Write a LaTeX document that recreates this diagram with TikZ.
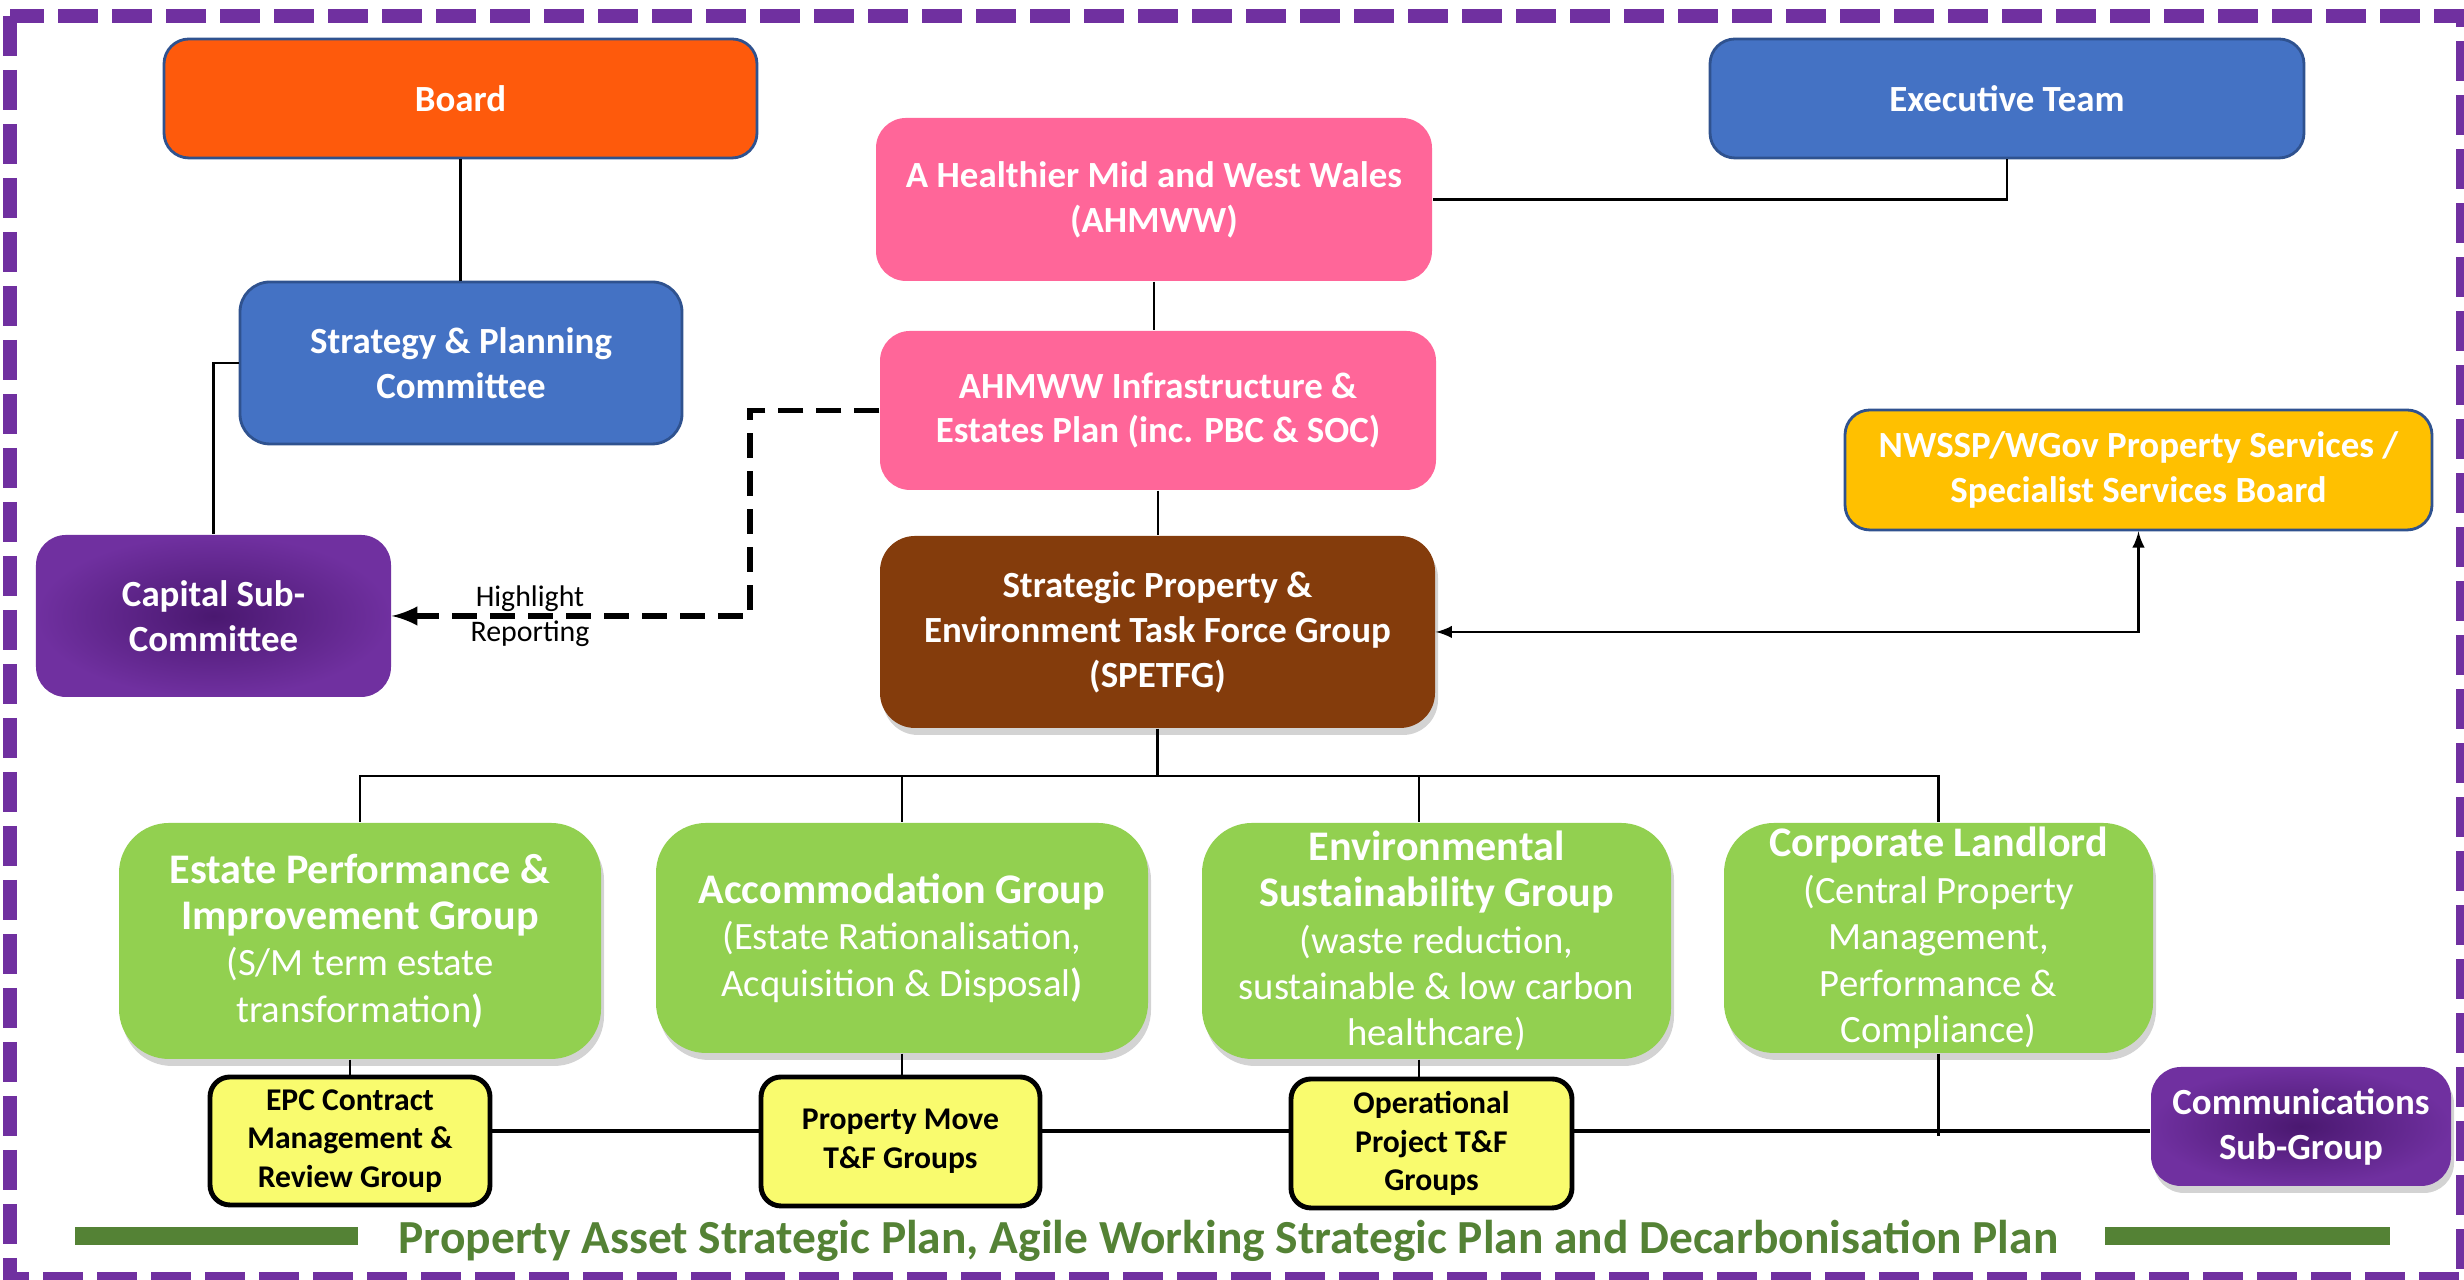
\documentclass[tikz,border=0pt]{standalone}
\usepackage{fontspec}
\setmainfont{Carlito}
\usetikzlibrary{shadows}

\definecolor{boardorange}{HTML}{FE5A0C}
\definecolor{officeblue}{HTML}{4472C4}
\definecolor{officeedge}{HTML}{2F528F}
\definecolor{ahmwwpink}{HTML}{FF6699}
\definecolor{nwsspgold}{HTML}{FFC000}
\definecolor{grouppurple}{HTML}{7030A0}
\definecolor{darkpurple}{HTML}{4A1870}
\definecolor{spetbrown}{HTML}{843C0C}
\definecolor{groupgreen}{HTML}{92D050}
\definecolor{tfyellow}{HTML}{F9FB6E}
\definecolor{plangreen}{HTML}{548235}

\newcommand{\notefont}{\fontsize{11}{13.2}\selectfont\mdseries}

\tikzset{
	box/.style={rounded corners=0.25cm, align=center, text=white, inner sep=0pt, font=\fontsize{10.5}{12.8}\selectfont\bfseries},
	edged/.style={box, draw=officeedge, line width=0.8pt},
	softshadow/.style={drop shadow={opacity=0.35, shadow xshift=0.03cm, shadow yshift=-0.07cm}},
	greenbox/.style={box, fill=groupgreen, rounded corners=0.5cm, softshadow, font=\fontsize{12}{13.2}\selectfont\bfseries},
	tfbox/.style={box, fill=tfyellow, draw=black, line width=1.4pt, rounded corners=0.2cm, text=black, font=\fontsize{9}{11}\selectfont\bfseries},
	purplebox/.style={box, rounded corners=0.3cm, inner color=darkpurple, outer color=grouppurple},
	link/.style={line width=0.6pt},
	lowlink/.style={line width=1pt},
	dashlink/.style={line width=1.5pt, dash pattern=on 0.25cm off 0.13cm},
	>=latex
}

\begin{document}
\begin{tikzpicture}
	    
	    \useasboundingbox (0,0) rectangle (24.64,12.8);
	    \draw [grouppurple, line width=0.14cm, dash pattern=on 0.4cm off 0.14cm] (0.105,12.64) rectangle (24.63,0.01);
	    
	    \node [edged, fill=boardorange, minimum width=5.93cm, minimum height=1.19cm] (board) at (4.605,11.815) {Board};
	    \node [edged, fill=officeblue, minimum width=5.94cm, minimum height=1.19cm] (exec) at (20.07,11.815) {Executive Team};
	    
	    \node [box, fill=ahmwwpink, rounded corners=0.3cm, minimum width=5.56cm, minimum height=1.63cm] (ahmww) at (11.54,10.805) {A Healthier Mid and West Wales\\(AHMWW)};
	    \node [edged, fill=officeblue, rounded corners=0.3cm, minimum width=4.42cm, minimum height=1.62cm] (strategy) at (4.61,9.17) {Strategy \& Planning\\Committee};
	    \node [box, fill=ahmwwpink, rounded corners=0.3cm, minimum width=5.56cm, minimum height=1.59cm] (infra) at (11.58,8.695) {AHMWW Infrastructure \&\\Estates Plan (inc. PBC \& SOC)};
	    \node [edged, fill=nwsspgold, minimum width=5.87cm, minimum height=1.20cm] (nwssp) at (21.385,8.10) {NWSSP/WGov Property Services /\\Specialist Services Board};
	    
	    \node [purplebox, minimum width=3.55cm, minimum height=1.62cm] (capital) at (2.135,6.64) {Capital Sub-\\Committee};
	    \node [box, fill=spetbrown, rounded corners=0.35cm, softshadow, minimum width=5.55cm, minimum height=1.92cm] (spetfg) at (11.575,6.48) {Strategic Property \&\\Environment Task Force Group\\(SPETFG)};
	    
	    \node [greenbox, minimum width=4.82cm, minimum height=2.36cm] (estate) at (3.60,3.39) {Estate Performance \&\\Improvement Group\\\notefont (S/M term estate\\\notefont transformation\textbf{)}};
	    \node [greenbox, minimum width=4.92cm, minimum height=2.30cm] (accom) at (9.02,3.42) {Accommodation Group\\\notefont (Estate Rationalisation,\\\notefont Acquisition \& Disposal\textbf{)}};
	    \node [greenbox, minimum width=4.69cm, minimum height=2.36cm] (envgrp) at (14.365,3.39) {Environmental\\Sustainability Group\\\notefont (waste reduction,\\\notefont sustainable \& low carbon\\\notefont healthcare)};
	    \node [greenbox, minimum width=4.29cm, minimum height=2.30cm] (landlord) at (19.385,3.42) {Corporate Landlord\\\notefont (Central Property\\\notefont Management,\\\notefont Performance \&\\\notefont Compliance)};
	    
	    \node [tfbox, minimum width=2.80cm, minimum height=1.28cm] (epc) at (3.50,1.39) {EPC Contract\\Management \&\\Review Group};
	    \node [tfbox, minimum width=2.79cm, minimum height=1.29cm] (move) at (9.005,1.385) {Property Move\\T\&F Groups};
	    \node [tfbox, minimum width=2.81cm, minimum height=1.29cm] (ops) at (14.315,1.365) {Operational\\Project T\&F\\Groups};
	    \node [purplebox, softshadow, minimum width=3.00cm, minimum height=1.19cm] (comms) at (23.01,1.535) {Communications\\Sub-Group};
	    
	    \coordinate (hlturn) at (7.50,6.64);
	    \coordinate (fork) at (11.575,5.04);
	    \coordinate (lowline) at (0,1.49);
	    \coordinate (cltail) at (19.385,1.44);
	    
	    \draw [link] (board.south) -- (board.south |- strategy.north);
	    \draw [link] (strategy.west) -| (capital.north);
	    \draw [link] (exec.south) |- (ahmww.east);
	    \draw [link] (ahmww.south) -- (ahmww.south |- infra.north);
	    \draw [link] (infra.south) -- (infra.south |- spetfg.north);
	    
	    \draw [dashlink, ->] (infra.west) -| (hlturn) -- (capital.east);
	    \node [align=center, font=\fontsize{8.5}{10}\selectfont] (hlnote) at (5.30,6.64) {Highlight\\Reporting};
	    
	    \draw [link, <->] (spetfg.east) -| (nwssp.south);
	    
	    \draw [link] (spetfg.south) -- (fork);
	    \draw [link] (fork) -| (estate.north);
	    \draw [link] (fork) -| (accom.north);
	    \draw [link] (fork) -| ([xshift=-0.175cm]envgrp.north);
	    \draw [link] (fork) -| (landlord.north);
	    
	    \draw [link] (epc.north |- estate.south) -- (epc.north);
	    \draw [link] (accom.south) -- (accom.south |- move.north);
	    \draw [link] ([xshift=-0.175cm]envgrp.south) -- ([xshift=-0.175cm]envgrp.south |- ops.north);
	    \draw [link] (landlord.south) -- (cltail);
	    
	    \draw [lowlink] (epc.east |- lowline) -- (move.west |- lowline);
	    \draw [lowlink] (move.east |- lowline) -- (ops.west |- lowline);
	    \draw [lowlink] (ops.east |- lowline) -- (comms.west |- lowline);
	    
	    \draw [plangreen, line width=0.18cm] (0.75,0.44) -- (3.58,0.44);
	    \draw [plangreen, line width=0.18cm] (21.05,0.44) -- (23.90,0.44);
	    \node [anchor=base, text=plangreen, font=\fontsize{13.5}{16}\selectfont\bfseries] (plantitle) at (12.285,0.26) {Property Asset Strategic Plan, Agile Working Strategic Plan and Decarbonisation Plan};
	    
\end{tikzpicture}
\end{document}
